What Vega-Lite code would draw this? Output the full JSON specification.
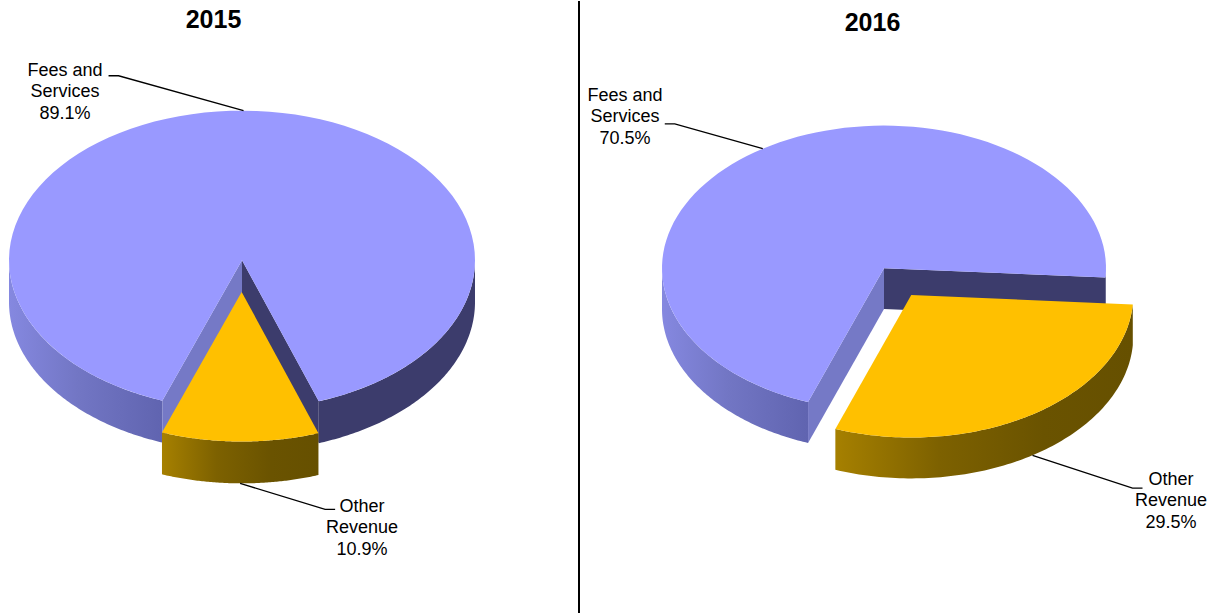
{
"$schema":"https://vega.github.io/schema/vega-lite/v6.json",
"description":"Revenue mix 2015 and 2016. Slice angles are derived from each share; the tilted 3D pie outlines are computed from those angles because arc marks cannot draw ellipses.",
"width":1218,"height":614,"padding":0,
"autosize":{"type":"fit","contains":"padding"},
"background":"white",
"config":{"view":{"stroke":null}},
"data":{"values":[
{"year":2015,"source":"Fees and Services","share":0.891},
{"year":2015,"source":"Other Revenue","share":0.109},
{"year":2016,"source":"Fees and Services","share":0.705},
{"year":2016,"source":"Other Revenue","share":0.295}
]},
"transform":[
{"calculate":"datum.source=='Other Revenue'","as":"oth"},
{"calculate":"datum.year==2015?242:884","as":"cx"},
{"calculate":"datum.year==2015?260:268","as":"cy"},
{"calculate":"datum.year==2015?233:222","as":"rx"},
{"calculate":"datum.year==2015?150:143","as":"ry"},
{"calculate":"datum.year==2015?42:41","as":"dp"},
{"calculate":"datum.year==2015?0.213:0.225","as":"ex"},
{"calculate":"datum.oth?200-360*datum.share:200","as":"a0"},
{"calculate":"datum.oth?200:200+360*datum.share","as":"a1"},
{"calculate":"(datum.a0+datum.a1)/2*PI/180","as":"mid"},
{"calculate":"datum.cx+(datum.oth?datum.rx*datum.ex*sin(datum.mid):0)","as":"px"},
{"calculate":"datum.cy-(datum.oth?datum.ry*datum.ex*cos(datum.mid):0)","as":"py"},
{"calculate":"datum.year+'|'+datum.source","as":"key"},
{"calculate":"sequence(0,203)","as":"i"},
{"flatten":["i"]}
],
"encoding":{
"x":{"field":"X","type":"quantitative","scale":{"domain":[0,1218],"nice":false,"zero":false},"axis":null},
"y":{"field":"Y","type":"quantitative","scale":{"domain":[614,0],"nice":false,"zero":false},"axis":null}
},
"layer":[
{"transform":[{"filter":"!datum.oth&&datum.i>=1"},
{"calculate":"(200+(270-200)*(datum.i<=101?(datum.i-1)/100:(202-datum.i)/100))*PI/180","as":"th"},
{"calculate":"datum.px+datum.rx*sin(datum.th)","as":"X"},
{"calculate":"datum.py-datum.ry*cos(datum.th)+(datum.i>101?datum.dp:0)","as":"Y"}],
"mark":{"type":"line","stroke":null,"fill":{"gradient":"linear","x1":0,"y1":0,"x2":1,"y2":0,"stops":[{"offset":0,"color":"#8588e0"},{"offset":0.45,"color":"#7276c4"},{"offset":1,"color":"#6064b0"}]}},
"encoding":{"order":{"field":"i","type":"quantitative"},"detail":{"field":"key"}}},
{"transform":[{"filter":"!datum.oth&&datum.i>=1"},
{"calculate":"(90+(datum.a1-360-90)*(datum.i<=101?(datum.i-1)/100:(202-datum.i)/100))*PI/180","as":"th"},
{"calculate":"datum.px+datum.rx*sin(datum.th)","as":"X"},
{"calculate":"datum.py-datum.ry*cos(datum.th)+(datum.i>101?datum.dp:0)","as":"Y"}],
"mark":{"type":"line","stroke":null,"fill":"#3c3c6c"},
"encoding":{"order":{"field":"i","type":"quantitative"},"detail":{"field":"key"}}},
{"transform":[{"filter":"!datum.oth&&datum.i<=3"},
{"calculate":"datum.a1*PI/180","as":"th"},
{"calculate":"datum.px+((datum.i==1||datum.i==2)?datum.rx*sin(datum.th):0)","as":"X"},
{"calculate":"datum.py-((datum.i==1||datum.i==2)?datum.ry*cos(datum.th):0)+(datum.i>=2?datum.dp:0)","as":"Y"}],
"mark":{"type":"line","stroke":null,"fill":"#3c3c6c"},
"encoding":{"order":{"field":"i","type":"quantitative"},"detail":{"field":"key"}}},
{"transform":[{"filter":"!datum.oth&&datum.i<=3"},
{"calculate":"datum.a0*PI/180","as":"th"},
{"calculate":"datum.px+((datum.i==1||datum.i==2)?datum.rx*sin(datum.th):0)","as":"X"},
{"calculate":"datum.py-((datum.i==1||datum.i==2)?datum.ry*cos(datum.th):0)+(datum.i>=2?datum.dp:0)","as":"Y"}],
"mark":{"type":"line","stroke":null,"fill":"#7579c6"},
"encoding":{"order":{"field":"i","type":"quantitative"},"detail":{"field":"key"}}},
{"transform":[{"filter":"!datum.oth&&datum.i<=101"},
{"calculate":"(datum.a0+(datum.a1-datum.a0)*(datum.i-1)/100)*PI/180","as":"th"},
{"calculate":"datum.px+(datum.i==0?0:datum.rx*sin(datum.th))","as":"X"},
{"calculate":"datum.py-(datum.i==0?0:datum.ry*cos(datum.th))","as":"Y"}],
"mark":{"type":"line","stroke":null,"fill":"#9999ff"},
"encoding":{"order":{"field":"i","type":"quantitative"},"detail":{"field":"key"}}},
{"transform":[{"filter":"datum.oth&&datum.i>=1"},
{"calculate":"(datum.a0+(datum.a1-datum.a0)*(datum.i<=101?(datum.i-1)/100:(202-datum.i)/100))*PI/180","as":"th"},
{"calculate":"datum.px+datum.rx*sin(datum.th)","as":"X"},
{"calculate":"datum.py-datum.ry*cos(datum.th)+(datum.i>101?datum.dp:0)","as":"Y"}],
"mark":{"type":"line","stroke":null,"fill":{"gradient":"linear","x1":0,"y1":0,"x2":1,"y2":0,"stops":[{"offset":0,"color":"#a68000"},{"offset":0.35,"color":"#7d6100"},{"offset":0.7,"color":"#6a5300"},{"offset":1,"color":"#665000"}]}},
"encoding":{"order":{"field":"i","type":"quantitative"},"detail":{"field":"key"}}},
{"transform":[{"filter":"datum.oth&&datum.i<=101"},
{"calculate":"(datum.a0+(datum.a1-datum.a0)*(datum.i-1)/100)*PI/180","as":"th"},
{"calculate":"datum.px+(datum.i==0?0:datum.rx*sin(datum.th))","as":"X"},
{"calculate":"datum.py-(datum.i==0?0:datum.ry*cos(datum.th))","as":"Y"}],
"mark":{"type":"line","stroke":null,"fill":"#ffc000"},
"encoding":{"order":{"field":"i","type":"quantitative"},"detail":{"field":"key"}}},
{"transform":[{"filter":"datum.i<=2"},
{"calculate":"datum.px+datum.rx*sin(datum.mid)","as":"ax"},
{"calculate":"datum.py-datum.ry*cos(datum.mid)+(datum.oth?datum.dp:0)","as":"ay"},
{"calculate":"datum.year==2015?(datum.oth?85:-125):(datum.oth?100:-88)","as":"ex2"},
{"calculate":"datum.year==2015?(datum.oth?26:-35):(datum.oth?33:-25)","as":"ey2"},
{"calculate":"datum.ax+(datum.i==0?0:datum.ex2+(datum.i==2?(datum.oth?10:-10):0))","as":"X"},
{"calculate":"datum.ay+(datum.i==0?0:datum.ey2)","as":"Y"}],
"mark":{"type":"line","stroke":"#000000","strokeWidth":1.3},
"encoding":{"order":{"field":"i","type":"quantitative"},"detail":{"field":"key"}}},
{"transform":[{"filter":"datum.i==0"},
{"calculate":"datum.year==2015?(datum.oth?362:65):(datum.oth?1171:625)","as":"X"},
{"calculate":"datum.year==2015?(datum.oth?507.5:70):(datum.oth?480.5:95)","as":"Y"},
{"calculate":"datum.oth?['Other','Revenue',format(datum.share,'.1%')]:['Fees and','Services',format(datum.share,'.1%')]","as":"lines"}],
"mark":{"type":"text","font":"Liberation Sans","fontSize":18,"lineHeight":21.5,"align":"center","baseline":"middle","color":"#000000"},
"encoding":{"text":{"field":"lines"}}},
{"transform":[{"filter":"datum.i==0&&!datum.oth"},
{"calculate":"datum.year==2015?213.5:872.5","as":"X"},
{"calculate":"datum.year==2015?19:22","as":"Y"},
{"calculate":"''+datum.year","as":"yr"}],
"mark":{"type":"text","font":"Liberation Sans","fontSize":25,"fontWeight":"bold","align":"center","baseline":"middle","color":"#000000"},
"encoding":{"text":{"field":"yr"}}},
{"transform":[{"filter":"datum.i==0&&!datum.oth&&datum.year==2015"},
{"calculate":"579","as":"X"},{"calculate":"0","as":"Y"},{"calculate":"614","as":"Y2"}],
"mark":{"type":"rule","color":"#000000","strokeWidth":2},
"encoding":{"y2":{"field":"Y2"}}}
]
}
